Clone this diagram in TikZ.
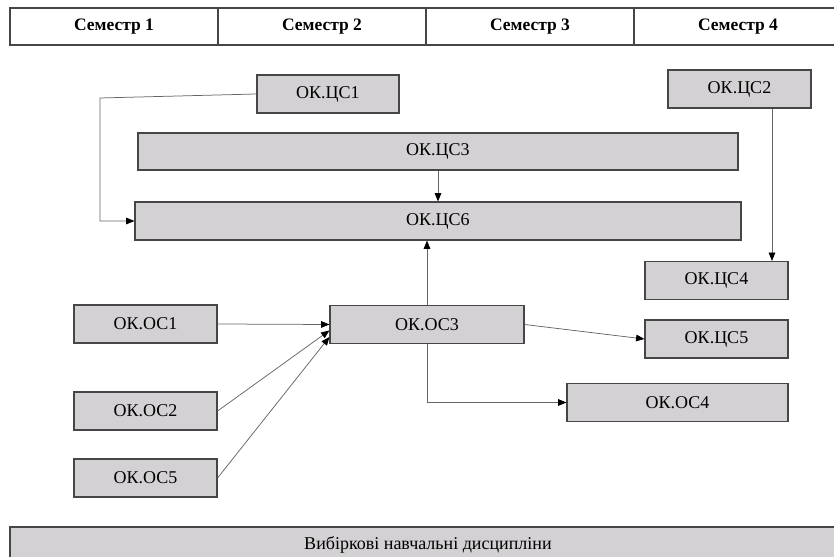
\documentclass[tikz,border=0pt]{standalone}
\usepackage{fontspec}
\setmainfont{Liberation Serif}
\usetikzlibrary{arrows.meta,calc}

\definecolor{boxgray}{RGB}{211,209,211}
\definecolor{edgegray}{RGB}{70,70,70}

\tikzset{
    course/.style={draw=edgegray, line width=0.7pt, fill=boxgray,
        inner sep=0pt, minimum height=38*0.6pt, font=\fontsize{10.8}{13}\selectfont},
    wd/.style={minimum width=#1*0.6pt},
    semcell/.style={draw=edgegray, line width=0.7pt, inner sep=0pt,
        minimum width=208*0.6pt, minimum height=37*0.6pt,
        font=\bfseries\fontsize{10.5}{12}\selectfont},
    link/.style={draw=gray!80!black, line width=0.45pt,
        -{Triangle[length=5pt,width=4pt,color=black]}},
}

\begin{document}
\begin{tikzpicture}[x=0.6pt,y=-0.6pt]
    \useasboundingbox (0,0) rectangle (834,557);
    \clip (0,0) rectangle (834,557);

    % semesters
    \foreach \i in {1,...,4}
        \node[semcell] (sem\i) at ({114+208*(\i-1)},26.5) {Семестр \i};

    % cycle courses
    \node[course, wd=142] (cs1) at (328,94) {ОК.ЦС1};
    \node[course, wd=143] (cs2) at (739.5,89) {ОК.ЦС2};
    \node[course, wd=600, minimum height=37*0.6pt] (cs3) at (438,151.5) {ОК.ЦС3};
    \node[course, wd=606] (cs6) at (438,221) {ОК.ЦС6};
    \node[course, wd=143] (cs4) at (716.5,280.5) {ОК.ЦС4};
    \node[course, wd=143] (cs5) at (716.5,339) {ОК.ЦС5};

    % general courses
    \node[course, wd=143] (os1) at (145.5,324) {ОК.ОС1};
    \node[course, wd=194] (os3) at (427,324.5) {ОК.ОС3};
    \node[course, wd=143] (os2) at (145.5,411) {ОК.ОС2};
    \node[course, wd=143] (os5) at (145.5,478) {ОК.ОС5};
    \node[course, wd=221] (os4) at (677.5,402.5) {ОК.ОС4};

    % electives
    \node[course, wd=836, minimum height=36*0.6pt] (elect) at (428,545)
        {Вибіркові навчальні дисципліни};

    % links
    \coordinate (bend) at (100,98);
    \coordinate (drop) at ($(cs2.south)+(32.5,0)$);
    \draw[link] (cs1.west) -- (bend) |- (cs6.west);
    \draw[link] (cs3.south) -- (cs6.north);
    \draw[link] (os3.north) -- (os3.north |- cs6.south);
    \draw[link] (drop) -- (drop |- cs4.north);
    \draw[link] (os1.east) -- (os3.west);
    \draw[link] (os2.east) -- ($(os3.west)+(0,6)$);
    \draw[link] (os5.east) -- ($(os3.west)+(0,12.5)$);
    \draw[link] (os3.east) -- (cs5.west);
    \draw[link] (os3.south) |- (os4.west);
\end{tikzpicture}
\end{document}
